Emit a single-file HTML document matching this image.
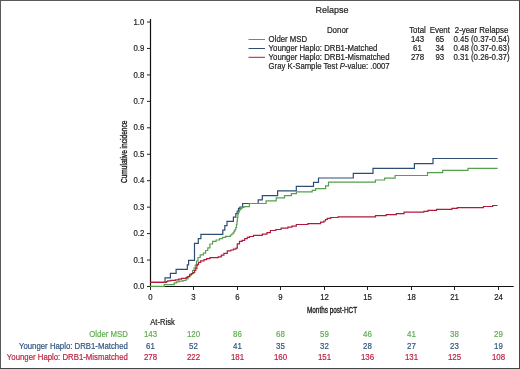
<!DOCTYPE html>
<html><head><meta charset="utf-8"><style>
html,body{margin:0;padding:0;background:#fff;}
body{width:520px;height:369px;overflow:hidden;position:relative;}
#f{position:absolute;left:0;top:0;width:518px;height:367px;border-style:solid;border-width:1px;border-color:#595959 #444 #444 #595959;}
svg{position:absolute;left:0;top:0;will-change:transform;}
text{font-family:"Liberation Sans", sans-serif;fill:#222;stroke:#222;stroke-width:0.18px;}
</style></head><body>
<div id="f"></div>
<svg width="520" height="369" viewBox="0 0 520 369">
<path d="M150.5,19 V287 M150,286.5 H513.7" stroke="#111" stroke-width="1.2" fill="none"/>
<path d="M147,286.50 H150.5 M147,260.05 H150.5 M147,233.60 H150.5 M147,207.15 H150.5 M147,180.70 H150.5 M147,154.25 H150.5 M147,127.80 H150.5 M147,101.35 H150.5 M147,74.90 H150.5 M147,48.45 H150.5 M147,22.00 H150.5 M150.5,287 V290 M193.5,287 V290 M237.5,287 V290 M280.5,287 V290 M324.5,287 V290 M367.5,287 V290 M411.5,287 V290 M454.5,287 V290 M498.5,287 V290" stroke="#222" stroke-width="1" fill="none"/>
<text transform="translate(144.30,289.10) scale(1,1.1)" text-anchor="end" font-size="7.8">0.0</text>
<text transform="translate(144.30,262.65) scale(1,1.1)" text-anchor="end" font-size="7.8">0.1</text>
<text transform="translate(144.30,236.20) scale(1,1.1)" text-anchor="end" font-size="7.8">0.2</text>
<text transform="translate(144.30,209.75) scale(1,1.1)" text-anchor="end" font-size="7.8">0.3</text>
<text transform="translate(144.30,183.30) scale(1,1.1)" text-anchor="end" font-size="7.8">0.4</text>
<text transform="translate(144.30,156.85) scale(1,1.1)" text-anchor="end" font-size="7.8">0.5</text>
<text transform="translate(144.30,130.40) scale(1,1.1)" text-anchor="end" font-size="7.8">0.6</text>
<text transform="translate(144.30,103.95) scale(1,1.1)" text-anchor="end" font-size="7.8">0.7</text>
<text transform="translate(144.30,77.50) scale(1,1.1)" text-anchor="end" font-size="7.8">0.8</text>
<text transform="translate(144.30,51.05) scale(1,1.1)" text-anchor="end" font-size="7.8">0.9</text>
<text transform="translate(144.30,24.60) scale(1,1.1)" text-anchor="end" font-size="7.8">1.0</text>
<text transform="translate(150.50,299.70) scale(1,1.1)" text-anchor="middle" font-size="7.8">0</text>
<text transform="translate(193.50,299.70) scale(1,1.1)" text-anchor="middle" font-size="7.8">3</text>
<text transform="translate(237.50,299.70) scale(1,1.1)" text-anchor="middle" font-size="7.8">6</text>
<text transform="translate(280.50,299.70) scale(1,1.1)" text-anchor="middle" font-size="7.8">9</text>
<text transform="translate(324.50,299.70) scale(1,1.1)" text-anchor="middle" font-size="7.8">12</text>
<text transform="translate(367.50,299.70) scale(1,1.1)" text-anchor="middle" font-size="7.8">15</text>
<text transform="translate(411.50,299.70) scale(1,1.1)" text-anchor="middle" font-size="7.8">18</text>
<text transform="translate(454.50,299.70) scale(1,1.1)" text-anchor="middle" font-size="7.8">21</text>
<text transform="translate(498.50,299.70) scale(1,1.1)" text-anchor="middle" font-size="7.8">24</text>
<text transform="translate(332,312.5) scale(0.728,1.05)" text-anchor="middle" font-size="8.8" style="stroke:#222;stroke-width:0.35">Months post-HCT</text>
<text transform="translate(126.8,151.85) rotate(-90) scale(0.765,1.04)" text-anchor="middle" font-size="8.6" style="stroke:#222;stroke-width:0.35">Cumulative incidence</text>
<path d="M150,282.4 H165 V277.8 H170.4 V273.4 H176.1 V269.3 H187.3 V264.8 H188.6 V260.3 H194.5 V243.4 H198.3 V238.6 H200.9 V234.3 H222.8 V230.2 H224.8 V225.6 H227 V221.4 H233.4 V217.1 H235.8 V213.7 H237.2 V211 H238.5 V208.4 H239.9 V207 H242.6 V203.5 H258.2 V199.8 H262.3 V195.6 H277.6 V190.9 H296.3 V186.4 H313.5 V182.4 H318.5 V178 H353.3 V173.3 H373 V168.3 H414.4 V163.7 H433 V158.5 H497.6" stroke="#2e4d72" stroke-width="1.2" fill="none"/>
<path d="M150,286.4 H164.2 V284.7 H174.2 V282.8 H176.5 V281.8 H179.2 V281.1 H183 V280.5 H186 V279 H188 V277 H190 V274 H192.6 V270.5 H194 V268 H195.3 V265.1 H196.5 V261 H198 V257.5 H200.2 V254.8 H203.4 V253.2 H205.6 V250.5 H207.8 V247.8 H209.9 V244 H212.6 V241.3 H216.1 V240 H219.5 V238.7 H222.6 V237.4 H225.6 V236.4 H230.5 V235 H231.8 V234 H233 V232.8 H234 V231.2 H235 V229.5 H235.8 V227.5 H236.5 V224.5 H237 V221 H237.4 V217.5 H237.9 V214 H238.5 V211.8 H239.5 V209.8 H240.5 V208.6 H242 V207.4 H244 V206.6 H249.4 V203.5 H266.1 V200.9 H276.2 V197.8 H284.5 V195.6 H291.4 V193.6 H296.4 V191.8 H312.2 V190.3 H315.6 V188.6 H325.6 V185.9 H328.5 V182.1 H375.4 V180 H384.6 V178.2 H395.1 V175.5 H427.5 V172.7 H442.7 V170.4 H468 V168.4 H497.6" stroke="#55a04f" stroke-width="1.2" fill="none"/>
<path d="M150,282.4 H166.2 V281.6 H167.7 V280.8 H170.8 V280.3 H175.4 V279.8 H178.5 V279.1 H181.5 V278.3 H186.2 V277.4 H187.7 V276.5 H189.5 V274.8 H191.5 V273.5 H193.1 V272.7 H194.6 V270.5 H195.8 V268.3 H196.9 V265.1 H197.7 V264.3 H198.5 V262.4 H200.7 V260.8 H204 V259.7 H206.7 V258.6 H209.9 V257.6 H218.2 V256.9 H221.3 V255.2 H223.9 V253.4 H227.3 V250.8 H230.8 V250 H233.4 V249.1 H236 V248.2 H237.3 V243.9 H239.5 V241.3 H242.1 V240.4 H244.7 V238.7 H247.3 V237.4 H249.5 V236.5 H253.5 V235.3 H262.3 V234.2 H267 V232.6 H270.4 V230.5 H275.8 V229.5 H281.1 V228.2 H287.9 V227.1 H291.9 V226.2 H296.3 V224.5 H307.8 V223.6 H320.6 V222.2 H323.9 V221 H325.5 V219.5 H327.3 V218.3 H330.7 V217.5 H338 V216.9 H375.5 V215.6 H386.2 V214.6 H396.3 V213.6 H404.1 V212.2 H423.9 V211.3 H428 V210.4 H436.5 V209.3 H451.9 V208.4 H457.3 V207.6 H483.5 V206.5 H492.7 V205.5 H497.6" stroke="#b01a3c" stroke-width="1.2" fill="none"/>
<text transform="translate(331.90,13.00) scale(1,1.1)" text-anchor="middle" font-size="9">Relapse</text>
<text transform="translate(326.90,32.60) scale(1,1.1)" font-size="7.9">Donor</text>
<path d="M248.5,39.5 H265" stroke="#55a04f" stroke-width="1"/>
<text transform="translate(268.60,42.30) scale(1,1.1)" font-size="7.8">Older MSD</text>
<path d="M248.5,48.5 H265" stroke="#2e4d72" stroke-width="1"/>
<text transform="translate(268.60,51.10) scale(1,1.1)" font-size="7.8">Younger Haplo: DRB1-Matched</text>
<path d="M248.5,57.3 H265" stroke="#b01a3c" stroke-width="1"/>
<text transform="translate(268.60,59.90) scale(1,1.1)" font-size="7.8">Younger Haplo: DRB1-Mismatched</text>
<text transform="translate(268.60,68.70) scale(1,1.1)" font-size="7.75">Gray K-Sample Test <tspan font-style="italic">P</tspan>-value: .0007</text>
<text transform="translate(417.50,32.60) scale(1,1.1)" text-anchor="middle" font-size="7.9">Total</text>
<text transform="translate(439.80,32.60) scale(1,1.1)" text-anchor="middle" font-size="7.9">Event</text>
<text transform="translate(481.50,32.60) scale(1,1.1)" text-anchor="middle" font-size="7.9">2-year Relapse</text>
<text transform="translate(417.50,42.10) scale(1,1.1)" text-anchor="middle" font-size="7.9">143</text>
<text transform="translate(439.80,42.10) scale(1,1.1)" text-anchor="middle" font-size="7.9">65</text>
<text transform="translate(481.50,42.10) scale(1,1.1)" text-anchor="middle" font-size="7.9">0.45 (0.37-0.54)</text>
<text transform="translate(417.50,50.90) scale(1,1.1)" text-anchor="middle" font-size="7.9">61</text>
<text transform="translate(439.80,50.90) scale(1,1.1)" text-anchor="middle" font-size="7.9">34</text>
<text transform="translate(481.50,50.90) scale(1,1.1)" text-anchor="middle" font-size="7.9">0.48 (0.37-0.63)</text>
<text transform="translate(417.50,59.70) scale(1,1.1)" text-anchor="middle" font-size="7.9">278</text>
<text transform="translate(439.80,59.70) scale(1,1.1)" text-anchor="middle" font-size="7.9">93</text>
<text transform="translate(481.50,59.70) scale(1,1.1)" text-anchor="middle" font-size="7.9">0.31 (0.26-0.37)</text>
<text transform="translate(150.30,324.80) scale(1,1.1)" font-size="7.6">At-Risk</text>
<text transform="translate(127.80,336.80) scale(1,1.1)" text-anchor="end" font-size="7.8" style="fill:#5eae4e;stroke:#5eae4e">Older MSD</text>
<text transform="translate(150.50,336.80) scale(1,1.1)" text-anchor="middle" font-size="7.9" style="fill:#5eae4e;stroke:#5eae4e">143</text>
<text transform="translate(193.50,336.80) scale(1,1.1)" text-anchor="middle" font-size="7.9" style="fill:#5eae4e;stroke:#5eae4e">120</text>
<text transform="translate(237.50,336.80) scale(1,1.1)" text-anchor="middle" font-size="7.9" style="fill:#5eae4e;stroke:#5eae4e">86</text>
<text transform="translate(280.50,336.80) scale(1,1.1)" text-anchor="middle" font-size="7.9" style="fill:#5eae4e;stroke:#5eae4e">68</text>
<text transform="translate(324.50,336.80) scale(1,1.1)" text-anchor="middle" font-size="7.9" style="fill:#5eae4e;stroke:#5eae4e">59</text>
<text transform="translate(367.50,336.80) scale(1,1.1)" text-anchor="middle" font-size="7.9" style="fill:#5eae4e;stroke:#5eae4e">46</text>
<text transform="translate(411.50,336.80) scale(1,1.1)" text-anchor="middle" font-size="7.9" style="fill:#5eae4e;stroke:#5eae4e">41</text>
<text transform="translate(454.50,336.80) scale(1,1.1)" text-anchor="middle" font-size="7.9" style="fill:#5eae4e;stroke:#5eae4e">38</text>
<text transform="translate(498.50,336.80) scale(1,1.1)" text-anchor="middle" font-size="7.9" style="fill:#5eae4e;stroke:#5eae4e">29</text>
<text transform="translate(127.80,348.60) scale(1,1.1)" text-anchor="end" font-size="7.8" style="fill:#2f5580;stroke:#2f5580">Younger Haplo: DRB1-Matched</text>
<text transform="translate(150.50,348.60) scale(1,1.1)" text-anchor="middle" font-size="7.9" style="fill:#2f5580;stroke:#2f5580">61</text>
<text transform="translate(193.50,348.60) scale(1,1.1)" text-anchor="middle" font-size="7.9" style="fill:#2f5580;stroke:#2f5580">52</text>
<text transform="translate(237.50,348.60) scale(1,1.1)" text-anchor="middle" font-size="7.9" style="fill:#2f5580;stroke:#2f5580">41</text>
<text transform="translate(280.50,348.60) scale(1,1.1)" text-anchor="middle" font-size="7.9" style="fill:#2f5580;stroke:#2f5580">35</text>
<text transform="translate(324.50,348.60) scale(1,1.1)" text-anchor="middle" font-size="7.9" style="fill:#2f5580;stroke:#2f5580">32</text>
<text transform="translate(367.50,348.60) scale(1,1.1)" text-anchor="middle" font-size="7.9" style="fill:#2f5580;stroke:#2f5580">28</text>
<text transform="translate(411.50,348.60) scale(1,1.1)" text-anchor="middle" font-size="7.9" style="fill:#2f5580;stroke:#2f5580">27</text>
<text transform="translate(454.50,348.60) scale(1,1.1)" text-anchor="middle" font-size="7.9" style="fill:#2f5580;stroke:#2f5580">23</text>
<text transform="translate(498.50,348.60) scale(1,1.1)" text-anchor="middle" font-size="7.9" style="fill:#2f5580;stroke:#2f5580">19</text>
<text transform="translate(127.80,360.40) scale(1,1.1)" text-anchor="end" font-size="7.8" style="fill:#bb2442;stroke:#bb2442">Younger Haplo: DRB1-Mismatched</text>
<text transform="translate(150.50,360.40) scale(1,1.1)" text-anchor="middle" font-size="7.9" style="fill:#bb2442;stroke:#bb2442">278</text>
<text transform="translate(193.50,360.40) scale(1,1.1)" text-anchor="middle" font-size="7.9" style="fill:#bb2442;stroke:#bb2442">222</text>
<text transform="translate(237.50,360.40) scale(1,1.1)" text-anchor="middle" font-size="7.9" style="fill:#bb2442;stroke:#bb2442">181</text>
<text transform="translate(280.50,360.40) scale(1,1.1)" text-anchor="middle" font-size="7.9" style="fill:#bb2442;stroke:#bb2442">160</text>
<text transform="translate(324.50,360.40) scale(1,1.1)" text-anchor="middle" font-size="7.9" style="fill:#bb2442;stroke:#bb2442">151</text>
<text transform="translate(367.50,360.40) scale(1,1.1)" text-anchor="middle" font-size="7.9" style="fill:#bb2442;stroke:#bb2442">136</text>
<text transform="translate(411.50,360.40) scale(1,1.1)" text-anchor="middle" font-size="7.9" style="fill:#bb2442;stroke:#bb2442">131</text>
<text transform="translate(454.50,360.40) scale(1,1.1)" text-anchor="middle" font-size="7.9" style="fill:#bb2442;stroke:#bb2442">125</text>
<text transform="translate(498.50,360.40) scale(1,1.1)" text-anchor="middle" font-size="7.9" style="fill:#bb2442;stroke:#bb2442">108</text>
</svg>
</body></html>
